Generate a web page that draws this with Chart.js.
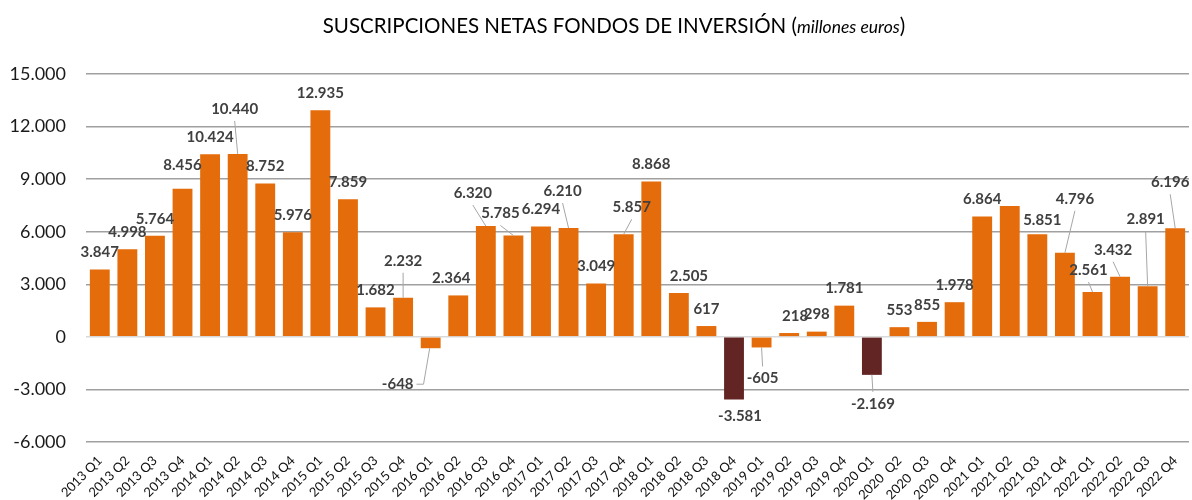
<!DOCTYPE html>
<html>
<head>
<meta charset="utf-8">
<script src="https://cdn.jsdelivr.net/npm/chart.js@4.4.1/dist/chart.umd.min.js"></script>
<style>
  html, body { margin: 0; padding: 0; background: #fff; }
  #wrap { position: relative; width: 1192px; height: 500px; }
</style>
</head>
<body>
<div id="wrap"><canvas id="chartSuscripciones"></canvas></div>
<script>
// datos: suscripciones netas por trimestre (millones de euros)
const quarters = [
  '2013 Q1','2013 Q2','2013 Q3','2013 Q4','2014 Q1','2014 Q2','2014 Q3','2014 Q4',
  '2015 Q1','2015 Q2','2015 Q3','2015 Q4','2016 Q1','2016 Q2','2016 Q3','2016 Q4',
  '2017 Q1','2017 Q2','2017 Q3','2017 Q4','2018 Q1','2018 Q2','2018 Q3','2018 Q4',
  '2019 Q1','2019 Q2','2019 Q3','2019 Q4','2020 Q1','2020  Q2','2020  Q3','2020  Q4',
  '2021 Q1','2021 Q2','2021 Q3','2021 Q4','2022 Q1','2022 Q2','2022 Q3','2022 Q4'
];
const netFlows = [
  3847, 4998, 5764, 8456, 10424, 10440, 8752, 5976,
  12935, 7859, 1682, 2232, -648, 2364, 6320, 5785,
  6294, 6210, 3049, 5857, 8868, 2505, 617, -3581,
  -605, 218, 298, 1781, -2169, 553, 855, 1978,
  6864, 7470, 5851, 4796, 2561, 3432, 2891, 6196
];
const yTicks = [-6000, -3000, 0, 3000, 6000, 9000, 12000, 15000];
const highlighted = ['2018 Q4', '2020 Q1'];   // barras en granate
const unlabeled = ['2021 Q2'];

// colocacion de etiquetas: [dx, dy, linea guia, codo]
const labelShift = {
  3: [0, -24], 5: [-3, -45, true], 11: [0, -37, true], 12: [-33, 36, true, true],
  13: [-7, -17], 14: [-13, -33, true], 15: [-13, -22, true], 17: [-6, -37, true],
  19: [8, -27, true], 21: [10, -17], 23: [6, 17], 24: [1, 31, true], 25: [6, -17],
  28: [1, 29, true], 34: [5, -14], 35: [10, -54, true], 36: [-4, -22, true],
  37: [-7, -27, true], 38: [-2, -67, true], 39: [-5, -46, true]
};

const ORANGE = '#E46C0A';
const MAROON = '#632523';

function fmt(v) {
  const s = Math.abs(v).toString().replace(/\B(?=(\d{3})+(?!\d))/g, '.');
  return (v < 0 ? '-' : '') + s;
}

const titlePlugin = {
  id: 'tituloMixto',
  afterDraw(chart) {
    const ctx = chart.ctx;
    const a = 'SUSCRIPCIONES NETAS FONDOS DE INVERSIÓN (';
    const b = 'millones euros';
    const c = ')';
    const fA = '20.5px Lato';
    const fB = 'italic 17.5px Lato';
    ctx.save();
    ctx.fillStyle = '#000';
    ctx.textBaseline = 'alphabetic';
    ctx.font = fA; const wA = ctx.measureText(a).width; const wC = ctx.measureText(c).width;
    ctx.font = fB; const wB = ctx.measureText(b).width;
    let x = 614 - (wA + wB + wC) / 2;
    const y = 33;
    ctx.textAlign = 'left';
    ctx.font = fA; ctx.fillText(a, x, y); x += wA;
    ctx.font = fB; ctx.fillText(b, x, y); x += wB;
    ctx.font = fA; ctx.fillText(c, x, y);
    ctx.restore();
  }
};

const labelPlugin = {
  id: 'etiquetas',
  afterDatasetsDraw(chart) {
    const ctx = chart.ctx;
    const meta = chart.getDatasetMeta(0);
    ctx.save();
    ctx.font = 'bold 15px Lato';
    ctx.textAlign = 'center';
    ctx.textBaseline = 'middle';
    meta.data.forEach((bar, i) => {
      if (unlabeled.includes(quarters[i])) return;
      const v = netFlows[i];
      const txt = fmt(v);
      const neg = v < 0;
      const s = labelShift[i] || [0, neg ? 17 : -17];
      const lx = bar.x + s[0];
      const ly = bar.y + s[1];
      if (s[2]) {
        ctx.strokeStyle = '#a6a6a6';
        ctx.lineWidth = 1;
        ctx.beginPath();
        if (s[3]) {
          const hw = ctx.measureText(txt).width / 2;
          ctx.moveTo(bar.x - 1, bar.y);
          ctx.lineTo(lx + hw + 10, ly);
          ctx.lineTo(lx + hw + 3, ly);
        } else if (neg) {
          ctx.moveTo(bar.x, bar.y);
          ctx.lineTo(lx, ly - 12);
        } else {
          ctx.moveTo(lx, ly + 12);
          ctx.lineTo(bar.x, bar.y);
        }
        ctx.stroke();
      }
      ctx.fillStyle = '#404040';
      ctx.fillText(txt, lx, ly);
    });
    ctx.restore();
  }
};

new Chart(document.getElementById('chartSuscripciones').getContext('2d'), {
  type: 'bar',
  data: {
    labels: quarters,
    datasets: [{
      data: netFlows,
      backgroundColor: quarters.map(q => highlighted.includes(q) ? MAROON : ORANGE),
      borderWidth: 0,
      barPercentage: 0.72,
      categoryPercentage: 1
    }]
  },
  options: {
    responsive: true,
    maintainAspectRatio: false,
    animation: false,
    layout: { padding: { top: 74, left: 8, right: 3, bottom: 0 } },
    plugins: {
      legend: { display: false },
      tooltip: { enabled: false }
    },
    scales: {
      x: {
        grid: { display: false, drawTicks: false },
        border: { display: false },
        afterFit: axis => { axis.paddingLeft = 0; axis.paddingRight = 0; axis.height = 58; },
        ticks: {
          color: '#111',
          font: { family: 'Lato', size: 13 },
          minRotation: 45,
          maxRotation: 45,
          autoSkip: false,
          padding: 11
        }
      },
      y: {
        min: yTicks[0],
        max: yTicks[yTicks.length - 1],
        afterBuildTicks: axis => { axis.ticks = yTicks.map(v => ({ value: v })); },
        afterFit: axis => { axis.paddingTop = 0; axis.paddingBottom = 0; axis.width = 78; },
        grid: {
          color: ctx => ctx.tick && ctx.tick.value === 0 ? '#d9d9d9' : '#a0a0a0',
          lineWidth: 1.5,
          drawTicks: false
        },
        border: { display: false },
        ticks: {
          color: '#1a1a1a',
          font: { family: 'Lato', size: 18 },
          padding: 20,
          callback: v => fmt(v)
        }
      }
    }
  },
  plugins: [titlePlugin, labelPlugin]
});
</script>
</body>
</html>
